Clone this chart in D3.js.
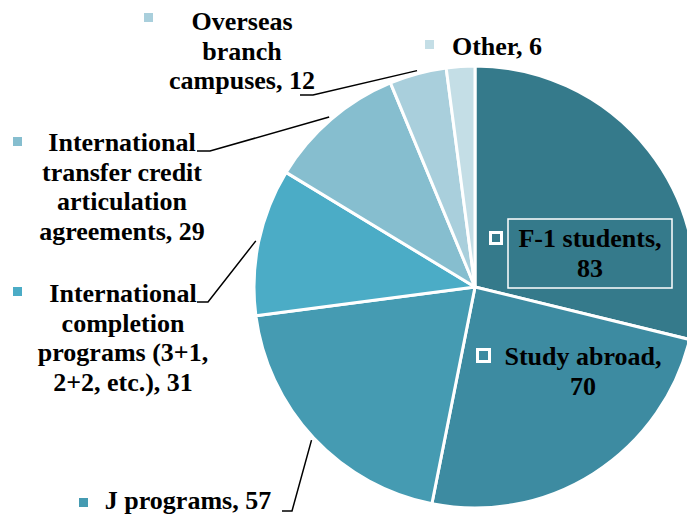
<!DOCTYPE html>
<html><head><meta charset="utf-8">
<script src="https://cdn.jsdelivr.net/npm/d3@7"></script>
<style>html,body{margin:0;padding:0;background:#fff;}svg{display:block;}</style>
</head><body>
<svg id="chart" width="687" height="518"></svg>
<script>
const categories = ["F-1 students", "Study abroad", "J programs", "International completion programs (3+1, 2+2, etc.)", "International transfer credit articulation agreements", "Overseas branch campuses", "Other"];
const values = [83, 70, 57, 31, 29, 12, 6];
const colors = ["#357A8B", "#3D8BA1", "#459BB2", "#4BACC6", "#86BECF", "#A9CFDC", "#C4DEE6"];
const labelLines = [
  ["F-1 students,", "83"],
  ["Study abroad,", "70"],
  ["J programs, 57"],
  ["International", "completion", "programs (3+1,", "2+2, etc.), 31"],
  ["International", "transfer credit", "articulation", "agreements, 29"],
  ["Overseas", "branch", "campuses, 12"],
  ["Other, 6"]
];

// layout (styling, not data)
const cx = 475, cy = 287, R = 221;
const layout = [
  {x: 590, y: 247, inside: true, mk: [489, 231, 14], box: [508, 219, 164, 69]},
  {x: 583, y: 365, inside: true, mk: [476, 348, 15]},
  {x: 188, y: 509, mk: [79, 498, 9], leader: [[292, 511], [282, 511]]},
  {x: 123, y: 302, mk: [13, 287, 9], leader: [[208, 302], [197, 302]]},
  {x: 122, y: 151, mk: [13, 137, 9], leader: [[210, 151], [197, 151]]},
  {x: 242, y: 30, mk: [144, 13, 9], leader: [[313, 95], [300, 95]]},
  {x: 497, y: 55, mk: [425, 40, 9]}
];

const svg = d3.select("#chart");
const g = svg.append("g").attr("transform", `translate(${cx},${cy})`);
const pie = d3.pie().sort(null).value(d => d)(values);
const arc = d3.arc().innerRadius(0).outerRadius(R);
const outer = d3.arc().innerRadius(R + 3).outerRadius(R + 3);

g.selectAll("path.slice").data(pie).join("path")
  .attr("class", "slice")
  .attr("d", arc)
  .attr("fill", (d, i) => colors[i])
  .attr("stroke", "#fff")
  .attr("stroke-width", 3)
  .attr("stroke-linejoin", "round");

// leader lines
pie.forEach((d, i) => {
  const L = layout[i];
  if (!L.leader) return;
  const c = outer.centroid(d);
  const pts = [[c[0] + cx, c[1] + cy], ...L.leader];
  svg.append("path")
    .attr("d", d3.line()(pts))
    .attr("fill", "none")
    .attr("stroke", "#000")
    .attr("stroke-width", 1.5);
});

// labels
layout.forEach((L, i) => {
  if (L.box) {
    svg.append("rect").attr("x", L.box[0]).attr("y", L.box[1])
      .attr("width", L.box[2]).attr("height", L.box[3])
      .attr("fill", "none").attr("stroke", "#fff").attr("stroke-width", 1.5);
  }
  const [mx, my, ms] = L.mk;
  if (L.inside) {
    svg.append("rect").attr("x", mx + 1.5).attr("y", my + 1.5)
      .attr("width", ms - 3).attr("height", ms - 3)
      .attr("fill", colors[i]).attr("stroke", "#fff").attr("stroke-width", 3);
  } else {
    svg.append("rect").attr("x", mx).attr("y", my)
      .attr("width", ms).attr("height", ms).attr("fill", colors[i]);
  }
  const t = svg.append("text")
    .style("font-family", '"Liberation Serif", serif')
    .style("font-weight", "bold")
    .style("font-size", "26px")
    .attr("fill", "#000").attr("text-anchor", "middle");
  labelLines[i].forEach((ln, k) => {
    t.append("tspan").attr("x", L.x).attr("y", L.y + k * 29.5).text(ln);
  });
});
</script>
</body></html>
